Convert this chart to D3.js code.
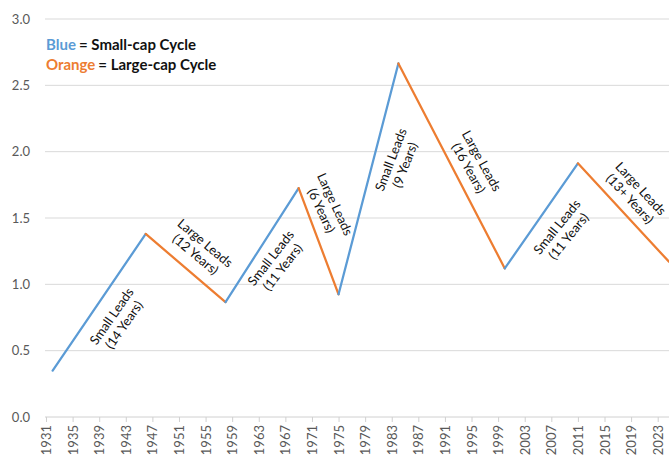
<!DOCTYPE html>
<html>
<head>
<meta charset="utf-8">
<script src="https://cdn.jsdelivr.net/npm/d3@7"></script>
<style>
  body { margin: 0; background: #fff; }
  text { font-family: "Source Sans Pro", Lato, "Noto Sans", sans-serif; }
</style>
</head>
<body>
<div id="chart"></div>
<script>
// turning points of the relative cycle
var years  = [1932, 1946, 1958, 1969, 1975, 1984, 2000, 2011, 2024.7];
var values = [0.35, 1.38, 0.866, 1.725, 0.925, 2.665, 1.12, 1.912, 1.17];
// which cycle each leg belongs to (leg i runs from point i to point i+1)
var legType = ["small", "large", "small", "large", "small", "large", "small", "large"];
var legLabel = ["Small Leads", "Large Leads", "Small Leads", "Large Leads", "Small Leads", "Large Leads", "Small Leads", "Large Leads"];
var legYears = ["(14 Years)", "(12 Years)", "(11 Years)", "(6 Years)", "(9 Years)", "(16 Years)", "(11 Years)", "(13+ Years)"];
var yTicks = [0, 0.5, 1, 1.5, 2, 2.5, 3];
var xTicks = d3.range(1931, 2024, 4);

var width = 669, height = 458;
var colors = { small: "#5b9bd5", large: "#ed7d31" };

var svg = d3.select("#chart").append("svg").attr("width", width).attr("height", height);

var x = d3.scaleLinear().domain([1931, 2024.7]).range([46, 669]);
var y = d3.scaleLinear().domain([0, 3]).range([417, 19]);

// gridlines
svg.append("g").selectAll("line").data(yTicks).enter().append("line")
  .attr("x1", 45).attr("x2", width)
  .attr("y1", function(d){ return y(d); }).attr("y2", function(d){ return y(d); })
  .attr("stroke", function(d){ return d === 0 ? "#d0d0d0" : "#d9d9d9"; })
  .attr("stroke-width", 1);

// y labels
svg.append("g").selectAll("text").data(yTicks).enter().append("text")
  .attr("x", 30).attr("y", function(d){ return y(d) + 4.5; })
  .attr("text-anchor", "end").attr("font-size", 13).attr("fill", "#595959")
  .text(function(d){ return d.toFixed(1); });

// x axis
var xAxis = d3.axisBottom(x).tickValues(xTicks).tickSize(5).tickFormat(d3.format("d"));
var gx = svg.append("g").attr("transform", "translate(0," + y(0) + ")").call(xAxis);
gx.select(".domain").remove();
gx.selectAll(".tick line").attr("stroke", "#d0d0d0");
gx.selectAll(".tick text")
  .attr("transform", "rotate(-90)")
  .attr("x", -8).attr("y", 0).attr("dy", "0.35em")
  .attr("text-anchor", "end")
  .attr("font-size", 13).attr("fill", "#595959")
  .style("font-family", '"Source Sans Pro", Lato, "Noto Sans", sans-serif');

// line legs
svg.append("defs").append("clipPath").attr("id", "plot")
  .append("rect").attr("x", 45).attr("y", 0).attr("width", width - 45).attr("height", height);

var legs = legType.map(function(t, i){
  return { type: t, pts: [[years[i], values[i]], [years[i+1], values[i+1]]] };
});
var line = d3.line().x(function(d){ return x(d[0]); }).y(function(d){ return y(d[1]); });
svg.append("g").attr("clip-path", "url(#plot)").selectAll("path").data(legs).enter().append("path")
  .attr("d", function(d){ return line(d.pts); })
  .attr("fill", "none")
  .attr("stroke", function(d){ return colors[d.type]; })
  .attr("stroke-width", 2.25)
  .attr("stroke-linecap", "round");

// annotations placed beside each leg
var notePos = [[117, 320], [201, 248], [276, 262], [329, 207], [397, 162], [476, 164], [562, 231], [636, 193]];
var noteAngle = [-55, 40, -52, 65, -69, 61, -51, 47];
var notes = svg.append("g").selectAll("g").data(legLabel).enter().append("g")
  .attr("transform", function(d, i){
    return "translate(" + notePos[i][0] + "," + notePos[i][1] + ") rotate(" + noteAngle[i] + ")";
  });
notes.append("text").attr("text-anchor", "middle").attr("font-size", 13).attr("fill", "#111")
  .attr("y", -2).text(function(d){ return d; });
notes.append("text").attr("text-anchor", "middle").attr("font-size", 13).attr("fill", "#111")
  .attr("y", 13).text(function(d, i){ return legYears[i]; });

// legend
var legend = [["Blue", "= Small-cap Cycle", colors.small], ["Orange", "= Large-cap Cycle", colors.large]];
var lg = svg.append("g").selectAll("text").data(legend).enter().append("text")
  .attr("x", 46).attr("y", function(d, i){ return 50 + i * 20; })
  .attr("font-size", 15).attr("font-weight", "bold");
lg.append("tspan").attr("fill", function(d){ return d[2]; }).text(function(d){ return d[0]; });
lg.append("tspan").attr("fill", "#111").attr("dx", 3).text(function(d){ return d[1]; });
</script>
</body>
</html>
